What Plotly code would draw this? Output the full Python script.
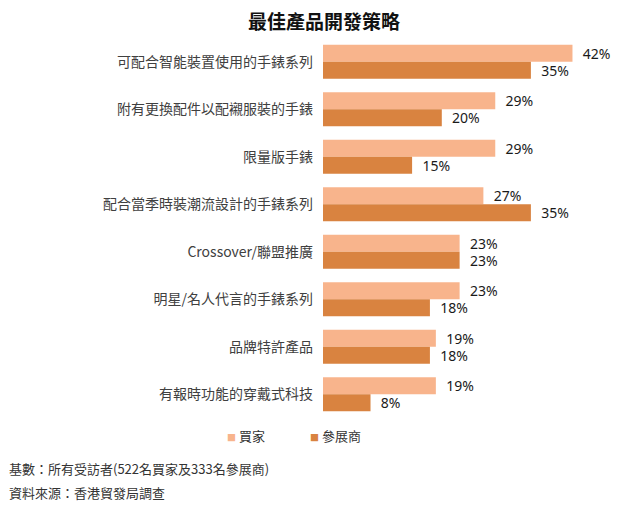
import plotly.graph_objects as go

# categories, top to bottom
categories = [
    "可配合智能裝置使用的手錶系列",
    "附有更換配件以配襯服裝的手錶",
    "限量版手錶",
    "配合當季時裝潮流設計的手錶系列",
    "Crossover/聯盟推廣",
    "明星/名人代言的手錶系列",
    "品牌特許產品",
    "有報時功能的穿戴式科技",
]
buyers = [42, 29, 29, 27, 23, 23, 19, 19]
exhibitors = [35, 20, 15, 35, 23, 18, 18, 8]
series_names = ["買家", "參展商"]

light = "#F8B48C"
dark = "#D98340"
cjk = "Noto Sans CJK TC"

# page has an 8px body margin, so the figure is drawn 8px smaller
W, H = 632, 498
L, R, T, B = 315, 20, 30, 88
pw, ph = W - L - R, H - T - B


def px_x(x):
    return (x - L) / pw


def px_y(y):
    return (H - B - y) / ph


fig = go.Figure()
for name, vals, col in [(series_names[0], buyers, light), (series_names[1], exhibitors, dark)]:
    fig.add_trace(go.Bar(
        y=categories, x=vals, name=name, orientation="h",
        marker_color=col, marker_line_width=0,
        texttemplate="  %{x}%", textposition="outside", constraintext="none",
        textfont=dict(family="Noto Sans", size=14, color="#1a1a1a"),
        cliponaxis=False,
    ))

fig.update_layout(
    width=W, height=H,
    margin=dict(l=L, r=R, t=T, b=B, autoexpand=False),
    paper_bgcolor="white", plot_bgcolor="white",
    barmode="group", bargap=0.28, bargroupgap=0,
    showlegend=False,
)
fig.update_xaxes(range=[0, 50], visible=False)
fig.update_yaxes(range=[7.5, -0.5], showline=False, showgrid=False, zeroline=False,
                 ticks="", ticklabelstandoff=9,
                 tickfont=dict(family=cjk, size=14, color="#404040"))

# title
fig.add_annotation(text="最佳產品開發策略", xref="paper", yref="paper",
                   x=px_x(316), y=px_y(12), xanchor="center", yanchor="middle",
                   showarrow=False,
                   font=dict(family=cjk, size=19, color="#111111", weight="bold"))

# legend drawn as text
for name, col, x0 in [(series_names[0], light, 217), (series_names[1], dark, 300)]:
    fig.add_annotation(text=f'<span style="color:{col};font-size:9px">■</span> {name}',
                       xref="paper", yref="paper", x=px_x(x0), y=px_y(427),
                       xanchor="left", yanchor="middle", showarrow=False,
                       font=dict(family=cjk, size=13, color="#333333"))

fig.add_annotation(text="基數：所有受訪者(522名買家及333名參展商)", xref="paper", yref="paper",
                   x=px_x(-1), y=px_y(460), xanchor="left", yanchor="middle",
                   showarrow=False, font=dict(family=cjk, size=13, color="#333333"))
fig.add_annotation(text="資料來源：香港貿發局調查", xref="paper", yref="paper",
                   x=px_x(-1), y=px_y(484), xanchor="left", yanchor="middle",
                   showarrow=False, font=dict(family=cjk, size=13, color="#333333"))

fig.write_html("out.html")
